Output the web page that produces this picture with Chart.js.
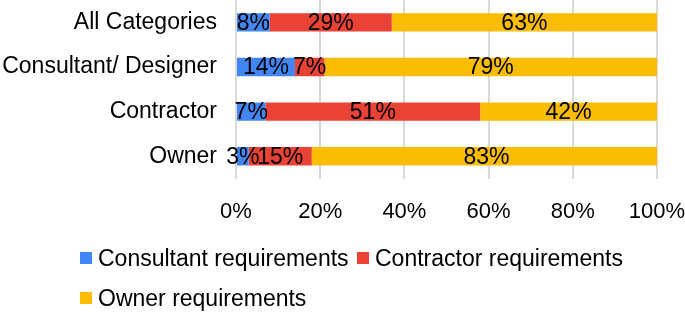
<!DOCTYPE html>
<html lang="en">
<head>
<meta charset="utf-8" />
<title>Requirements by category</title>
<style>
body{margin:0;background:#fff;font-family:"Liberation Sans",Arial,Helvetica,sans-serif;}
#wrap{position:relative;width:685px;height:314px;}
#chart{position:absolute;left:0;top:0;}
.legend{position:absolute;left:0;top:0;width:685px;height:314px;pointer-events:none;font-size:23px;color:#000;}
.legend span{position:absolute;display:flex;align-items:center;white-space:nowrap;line-height:26px;}
.swatch{width:12px;height:12px;display:inline-block;margin-right:6px;}
</style>
</head>
<body>
<div id="wrap">
    <canvas id="chart" width="685" height="314"></canvas>
    <div id="legend" class="legend"></div>
</div>

<script src="https://cdn.jsdelivr.net/npm/chart.js@4.4.1"></script>
<script>
/* ─────────── data ─────────── */
const categories = ['All Categories','Consultant/ Designer','Contractor','Owner'];
const seriesNames = ['Consultant requirements','Contractor requirements','Owner requirements'];
const consultant = [8,14,7,3];
const contractor = [29,7,51,15];
const owner      = [63,79,42,83];
const xTicks     = [0,20,40,60,80,100];

const colors = ['#4285f4','#ea4335','#fbbc04'];

/* ─────────── labels in the middle of each segment ─────────── */
const segLabels = {
    id:'segLabels',
    afterDatasetsDraw(chart){
        const {ctx} = chart;
        ctx.save();
        ctx.font = '23px "Liberation Sans", Arial, sans-serif';
        ctx.fillStyle = '#000';
        ctx.textAlign = 'center';
        ctx.textBaseline = 'middle';
        chart.data.datasets.forEach((ds,di)=>{
            chart.getDatasetMeta(di).data.forEach((bar,i)=>{
                const x = (bar.x + bar.base) / 2;
                ctx.fillText(ds.data[i] + '%', x, bar.y + 1);
            });
        });
        ctx.restore();
    }
};

Chart.defaults.animation = false;
Chart.defaults.font.family = '"Liberation Sans", Arial, sans-serif';
Chart.defaults.color = '#000';

const seriesData = [consultant, contractor, owner];

new Chart(document.getElementById('chart'),{
    type:'bar',
    data:{
        labels:categories,
        datasets:seriesNames.map((n,i)=>({
            label:n,
            data:seriesData[i],
            backgroundColor:colors[i],
            borderWidth:0,
            barPercentage:0.41,
            categoryPercentage:1
        }))
    },
    options:{
        indexAxis:'y',
        responsive:false,
        layout:{padding:{top:0,right:28,bottom:69,left:0}},
        plugins:{legend:{display:false},tooltip:{enabled:false}},
        scales:{
            x:{
                stacked:true,min:0,max:100,
                afterBuildTicks:s=>{ s.ticks = xTicks.map(v=>({value:v})); },
                afterFit:s=>{ s.paddingLeft = 0; s.paddingRight = 0; },
                ticks:{callback:v=>v+'%',font:{size:22},padding:20,maxRotation:0},
                grid:{color:'#d9d9d9',lineWidth:2,drawTicks:false},
                border:{display:false}
            },
            y:{
                stacked:true,
                afterFit:s=>{ s.width = 236; s.paddingTop = 0; s.paddingBottom = 0; },
                ticks:{font:{size:23},padding:19},
                grid:{display:false,drawTicks:false},
                border:{display:false}
            }
        }
    },
    plugins:[segLabels]
});

/* ─────────── legend ─────────── */
const legendPos = [[80,258],[357,258],[80,298]];
const legend = document.getElementById('legend');
seriesNames.forEach((n,i)=>{
    const item = document.createElement('span');
    item.style.left = legendPos[i][0] + 'px';
    item.style.top = (legendPos[i][1] - 13) + 'px';
    const sw = document.createElement('span');
    sw.className = 'swatch';
    sw.style.position = 'static';
    sw.style.backgroundColor = colors[i];
    item.appendChild(sw);
    item.appendChild(document.createTextNode(n));
    legend.appendChild(item);
});
</script>
</body>
</html>
